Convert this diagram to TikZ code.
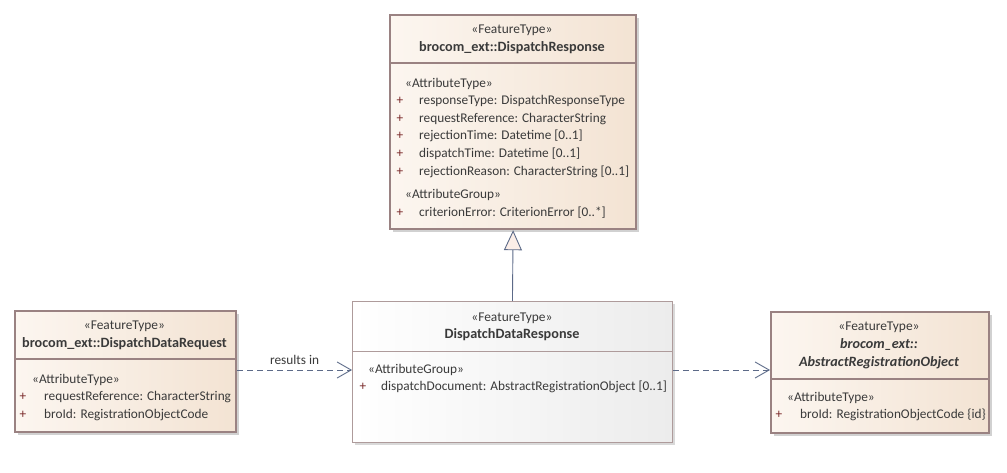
\documentclass[tikz,border=0pt]{standalone}
\usepackage{fontspec}
\setmainfont{Carlito}
\usetikzlibrary{arrows.meta,shadows}
\definecolor{boxedge}{HTML}{9A8282}
\definecolor{beigeL}{HTML}{FCF6F0}
\definecolor{beigeR}{HTML}{F3E3D3}
\definecolor{grayR}{HTML}{ECECEC}
\definecolor{txt}{HTML}{3A3A3A}
\definecolor{plus}{HTML}{7A2A2A}
\definecolor{conn}{HTML}{5C6A88}
\definecolor{trifill}{HTML}{FBEEE8}
\begin{document}
\begin{tikzpicture}[x=1pt,y=-1pt,
  featbox/.style={draw=boxedge, line width=2.2pt, left color=beigeL, right color=beigeR,
    anchor=north west, inner sep=0pt,
    drop shadow={shadow xshift=3pt, shadow yshift=-3pt, fill=black!18, opacity=1}},
  plainbox/.style={draw=boxedge!80, line width=0.9pt, left color=white, right color=grayR,
    anchor=north west, inner sep=0pt,
    drop shadow={shadow xshift=3pt, shadow yshift=-3pt, fill=black!15, opacity=1}},
  sep/.style={draw=boxedge, line width=2.2pt},
  thinsep/.style={draw=boxedge!80, line width=0.9pt},
  stereo/.style={font=\fontsize{13.4}{15}\selectfont, text=txt, inner sep=0pt},
  title/.style={font=\fontsize{14.2}{16}\selectfont\bfseries, text=txt, inner sep=0pt},
  ititle/.style={font=\fontsize{14.2}{16}\selectfont\bfseries\itshape, text=txt, inner sep=0pt},
  attr/.style={font=\fontsize{13.3}{15}\selectfont, text=txt, inner sep=0pt, anchor=west},
  pl/.style={font=\fontsize{13.3}{15}\selectfont, text=plus, inner sep=0pt},
  dep/.style={draw=conn, line width=0.9pt, dash pattern=on 6pt off 4pt,
    -{Straight Barb[length=14pt,width=16pt,line width=0.9pt]}},
  gen/.style={draw=conn, line width=0.9pt,
    -{Triangle[open,length=20pt,width=18pt,fill=trifill]}}
]
\useasboundingbox (0,0) rectangle (1007,473);

% ---- brocom_ext::DispatchResponse ----
\node[featbox, minimum width=246pt, minimum height=214pt] (resp) at (389,14) {};
\draw[sep] (389,63) -- (635,63);
\node[stereo] at (512,30) {«FeatureType»};
\node[title] at (512,48) {brocom\_ext::DispatchResponse};
\node[attr] at (405,84) {«AttributeType»};
\foreach \y/\t in {101/{responseType: DispatchResponseType},
                   119/{requestReference: CharacterString},
                   136/{rejectionTime: Datetime [0..1]},
                   154/{dispatchTime: Datetime [0..1]},
                   172/{rejectionReason: CharacterString [0..1]}}{
  \node[pl] at (400,\y) {+};
  \node[attr] at (419,\y) {\t};
}
\node[attr] at (405,195) {«AttributeGroup»};
\node[pl] at (400,213) {+};
\node[attr] at (419,213) {criterionError: CriterionError [0..*]};

% ---- brocom_ext::DispatchDataRequest ----
\node[featbox, minimum width=221pt, minimum height=121pt] (req) at (14,310) {};
\draw[sep] (14,359) -- (235,359);
\node[stereo] at (124.5,326) {«FeatureType»};
\node[title] at (124.5,344) {brocom\_ext::DispatchDataRequest};
\node[attr] at (32,380) {«AttributeType»};
\node[pl] at (23,397) {+};
\node[attr] at (44,397) {requestReference: CharacterString};
\node[pl] at (23,415) {+};
\node[attr] at (44,415) {broId: RegistrationObjectCode};

% ---- DispatchDataResponse ----
\node[plainbox, minimum width=320pt, minimum height=141pt] (dresp) at (352,301) {};
\draw[thinsep] (352,351) -- (672,351);
\node[stereo] at (512,318) {«FeatureType»};
\node[title] at (512,335) {DispatchDataResponse};
\node[attr] at (368,370) {«AttributeGroup»};
\node[pl] at (363,387) {+};
\node[attr] at (381,387) {dispatchDocument: AbstractRegistrationObject [0..1]};

% ---- brocom_ext::AbstractRegistrationObject ----
\node[featbox, minimum width=218pt, minimum height=121pt] (abs) at (770,311) {};
\draw[sep] (770,379) -- (988,379);
\node[stereo] at (879,327) {«FeatureType»};
\node[ititle] at (879,345) {brocom\_ext::};
\node[ititle] at (879,363) {AbstractRegistrationObject};
\node[attr] at (787,398) {«AttributeType»};
\node[pl] at (779,415) {+};
\node[attr] at (800,415) {broId: RegistrationObjectCode \{id\}};

% ---- connectors ----
\draw[gen] (dresp.north) -- (resp.south);
\draw[dep] (req.east |- 0,370) -- node[above=5pt, font=\fontsize{13.3}{15}\selectfont, text=txt, inner sep=0pt] (lbl) {results in} (dresp.west |- 0,370);
\draw[dep] (dresp.east |- 0,370) -- (abs.west |- 0,370);
\end{tikzpicture}
\end{document}
